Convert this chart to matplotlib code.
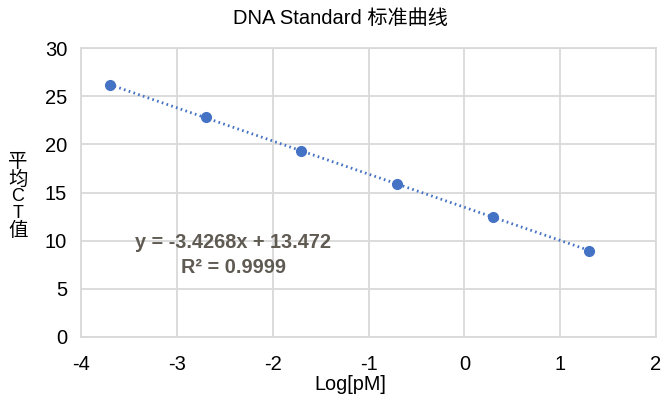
import numpy as np
import matplotlib
matplotlib.use("Agg")
import matplotlib.pyplot as plt

plt.rcParams['font.family'] = ['Liberation Sans', 'Noto Sans CJK SC', 'DejaVu Sans']
plt.rcParams['axes.unicode_minus'] = False

# 数据
log_pm = [-3.70, -2.70, -1.70, -0.70, 0.30, 1.30]
ct_mean = [26.17, 22.80, 19.30, 15.88, 12.47, 8.96]
eq_text = "y = -3.4268x + 13.472\nR² = 0.9999"
title = "DNA Standard 标准曲线"
xlabel = "Log[pM]"
ylabel = "平均CT值"

blue = "#4472C4"
grid_c = "#D9D9D9"

fig = plt.figure(figsize=(6.62, 4.0), dpi=100)
ax = fig.add_axes([0.1224, 0.1575, 0.8686, 0.7225])

# 趋势线
k, b = np.polyfit(log_pm, ct_mean, 1)
xs = np.array([min(log_pm), max(log_pm)])
ax.plot(xs, k * xs + b, color=blue, lw=2, ls=(0, (0.6, 1.2)), zorder=2)
ax.plot(log_pm, ct_mean, 'o', color=blue, ms=7, zorder=3)

ax.set_xlim(-4, 2)
ax.set_ylim(0, 30)
ax.set_xticks(range(-4, 3))
ax.set_yticks(range(0, 31, 5))
ax.grid(True, color=grid_c, lw=1.3)
ax.set_axisbelow(True)
for s in ax.spines.values():
    s.set_color(grid_c)
    s.set_linewidth(1.3)
ax.tick_params(length=0, labelsize=14.5)
ax.tick_params(axis='x', pad=13)
ax.tick_params(axis='y', pad=10)

ax.text(-2.41, 8.5, eq_text, ha='center', va='center', fontsize=14.3,
        fontweight='bold', color='#5F5A52', linespacing=1.35)

fig.text(340 / 662, 1 - 19 / 400, title, ha='center', va='center', fontsize=14.5)
fig.text(350 / 662, 1 - 385 / 400, xlabel, ha='center', va='center', fontsize=14.3)

# 纵轴标题：竖排，逐字放置
char_y = [162, 180, 197, 213, 231]
char_fs = [14, 14, 13, 13, 14]
for ch, py, fs in zip(ylabel, char_y, char_fs):
    fig.text(18 / 662, 1 - py / 400, ch, ha='center', va='center', fontsize=fs)

fig.savefig("out.png", dpi=100)
